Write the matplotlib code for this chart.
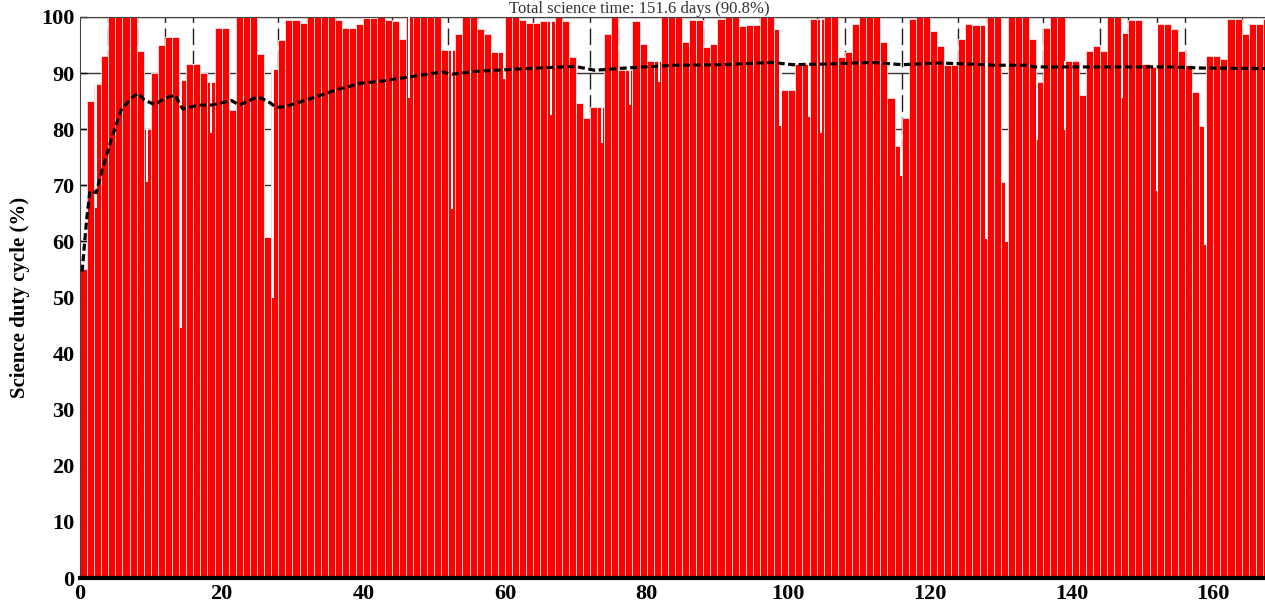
import numpy as np
import matplotlib
matplotlib.use("Agg")
import matplotlib.pyplot as plt

# daily science duty cycle (%), one value per day starting at day 0
duty = [55, 85, 88, 93, 100, 100, 100, 100, 94, 80,
        90, 95, 96.5, 96.5, 88.7, 91.6, 91.6, 90, 88.4, 98,
        98, 83.5, 100, 100, 100, 93.4, 60.8, 90.8, 95.9, 99.4,
        99.4, 99, 100, 100, 100, 100, 99.4, 98.1, 98.1, 98.7,
        99.9, 99.9, 100, 99.5, 99.3, 96, 100, 100, 100, 100,
        100, 94.1, 94.1, 96.9, 100, 100, 97.8, 96.9, 93.7, 93.7,
        100, 100, 99.4, 99, 99, 99.3, 99.3, 100, 99.3, 92.8,
        84.6, 82, 84, 84, 96.9, 100, 90.5, 90.5, 99.3, 95.2,
        92.2, 92.2, 100, 100, 100, 95.5, 99.4, 99.4, 94.6, 95.2,
        99.6, 100, 100, 98.4, 98.6, 98.6, 100, 100, 97.8, 87,
        87, 91.6, 91.6, 99.6, 99.6, 100, 100, 92.8, 93.7, 98.7,
        100, 100, 100, 95.5, 85.5, 77, 82, 99.6, 100, 100,
        97.5, 94.9, 91.4, 91.4, 96.1, 98.7, 98.6, 98.6, 100, 100,
        70.5, 100, 100, 100, 96, 88.4, 98.1, 100, 100, 92.2,
        92.2, 86.1, 94, 94.9, 94, 100, 100, 97.2, 99.4, 99.4,
        91.6, 91, 98.8, 98.8, 97.8, 94, 91.4, 86.6, 80.5, 93.1,
        93.1, 92.5, 99.6, 99.6, 96.9, 98.7, 98.7, 99.6]
days = np.arange(len(duty))

# short low stretches inside a day (position in days, duty %)
dip_day = [2.3, 9.4, 14.2, 18.5, 27.3, 46.4, 52.5, 59.8, 66.5, 73.7,
           77.7, 81.7, 98.9, 102.9, 104.6, 115.9, 127.9, 130.8, 135.1,
           139.1, 147.1, 152.1, 158.9]
dip_val = [66, 70.5, 44.6, 79.3, 50, 85.5, 65.8, 89, 82.5, 77.5,
           84.3, 88.4, 80.5, 82.2, 79.3, 71.6, 60.5, 59.9, 78,
           79.9, 85.5, 69, 59.3]

# cumulative duty cycle (dashed line)
cum_day = [0.3, 0.9, 1.4, 2.3, 3.0, 4.4, 5.8, 7.3, 8.2, 9.1, 10.5, 12.0,
           13.4, 14.5, 16.7, 18.5, 21.4, 22.5, 25.1, 26.6, 27.7, 28.9,
           32.7, 36.4, 39.7, 42.1, 46.4, 51.1, 52.5, 55.8, 62.8, 69.9,
           72.7, 76.9, 84.0, 90.7, 97.7, 100.6, 104.8, 111.9, 116.1,
           121.3, 126.0, 129.2, 133.7, 134.8, 144.3, 153.7, 158.4, 167.4]
cum_val = [54.6, 63.4, 69.0, 68.7, 72.2, 78.1, 83.4, 85.6, 86.4, 85.2, 84.4, 85.5,
           86.1, 83.6, 84.3, 84.3, 85.1, 84.3, 85.8, 84.9, 83.9, 84.0,
           85.5, 87.1, 88.2, 88.5, 89.3, 90.2, 89.8, 90.3, 90.8, 91.2,
           90.5, 90.9, 91.4, 91.5, 91.9, 91.5, 91.6, 91.9, 91.5,
           91.8, 91.6, 91.4, 91.4, 91.1, 91.1, 91.1, 90.9, 90.8]

title = "Total science time: 151.6 days (90.8%)"

plt.rcParams['font.family'] = ['Liberation Serif', 'DejaVu Serif']

fig = plt.figure(figsize=(12.65, 6.06), dpi=100)
ax = fig.add_axes([80 / 1265, 28 / 606, 1185 / 1265, 561 / 606])

ax.bar(days, duty, width=1.0, align='edge', color='#ff0000',
       edgecolor='#ffe6e6', linewidth=0.6, zorder=2)

# narrow white slits where the duty cycle drops for part of a day
slit_top = [duty[int(d)] for d in dip_day]
ax.bar(dip_day, np.array(slit_top) - np.array(dip_val), bottom=dip_val,
       width=0.3, color='white', linewidth=0, zorder=3)

ax.plot(cum_day, cum_val, color='black', lw=2.3, dashes=(2.2, 1.1), zorder=4)

ax.set_xlim(0, 167.3)
ax.set_ylim(0, 100)
ax.set_xticks(np.arange(0, 161, 20))
ax.set_yticks(np.arange(0, 101, 10))
ax.set_xticks(np.arange(0, 168, 4), minor=True)

ax.grid(axis='y', which='major', color='#333333', lw=1.0, zorder=1)
ax.grid(axis='x', which='minor', color='#222222', lw=1.0,
        linestyle=(0, (12, 4)), zorder=1)
ax.set_axisbelow(True)

for lab in ax.get_xticklabels() + ax.get_yticklabels():
    lab.set_fontweight('bold')
ax.tick_params(axis='both', which='major', labelsize=16, direction='in',
               length=5, width=1, pad=4)
ax.tick_params(axis='x', which='both', length=0)

ax.spines['bottom'].set_linewidth(3)
ax.spines['left'].set_color('#444444')
ax.spines['top'].set_color('#444444')
ax.spines['right'].set_visible(False)

ax.set_ylabel("Science duty cycle (%)", fontsize=15, fontweight='bold',
              labelpad=8)

# title sits in the thin strip above the axes
fig.text(0.505, 0.999, title, ha='center', va='top', fontsize=12,
         color='#333333')

fig.savefig("out.png", dpi=100)
